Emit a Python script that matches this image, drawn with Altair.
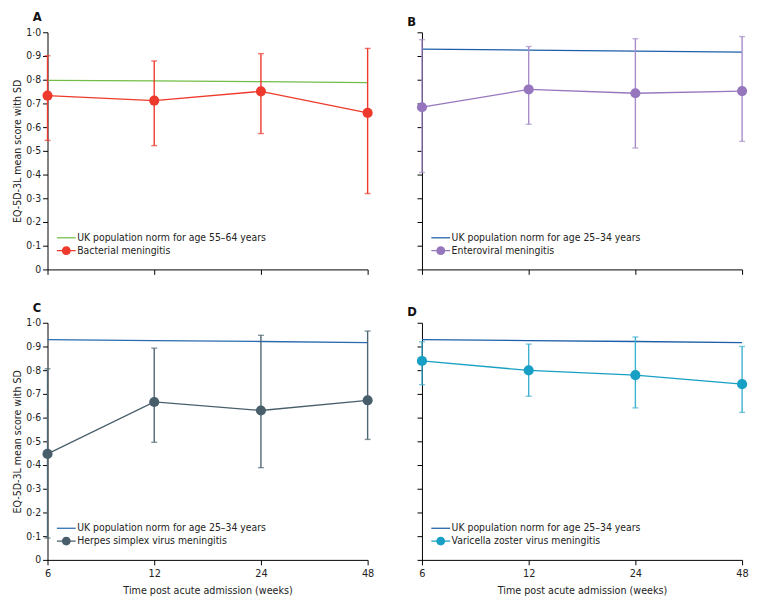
import altair as alt
import pandas as pd

weeks = ["6", "12", "24", "48"]

# Panel A - bacterial meningitis
bact_mean = [0.733, 0.712, 0.751, 0.660]
bact_lo = [0.544, 0.522, 0.573, 0.320]
bact_hi = [0.901, 0.879, 0.910, 0.932]
norm_55_64 = [0.797, 0.795, 0.792, 0.788]

# Panel B - enteroviral meningitis
entero_mean = [0.684, 0.759, 0.743, 0.752]
entero_lo = [0.409, 0.612, 0.512, 0.540]
entero_hi = [0.969, 0.940, 0.973, 0.982]
norm_25_34 = [0.929, 0.925, 0.921, 0.916]

# Panel C - HSV meningitis
hsv_mean = [0.447, 0.666, 0.630, 0.673]
hsv_lo = [0.092, 0.496, 0.389, 0.508]
hsv_hi = [0.806, 0.893, 0.947, 0.965]

# Panel D - VZV meningitis
vzv_mean = [0.839, 0.799, 0.779, 0.741]
vzv_lo = [0.739, 0.690, 0.641, 0.622]
vzv_hi = [0.920, 0.910, 0.940, 0.900]

y_ticks = [0, 0.1, 0.2, 0.3, 0.4, 0.5, 0.6, 0.7, 0.8, 0.9, 1.0]

LINE_PATH = "M-1.36,-0.09H1.36V0.09H-1.36Z"
LINE_DOT_PATH = ("M-1.36,-0.09H1.36V0.09H-1.36Z "
                 "M0.64,0A0.64,0.64 0 1 1 -0.64,0A0.64,0.64 0 1 1 0.64,0Z")

FONT = "Liberation Sans Narrow, DejaVu Sans Condensed, Roboto Condensed, Lato"
W, H = 324, 240


def panel(letter, norm_label, norm_vals, norm_color, dis_label, mean, lo, hi,
          dis_color, bar_color, x_labels, y_labels):
    norm_df = pd.DataFrame({"week": weeks, "value": norm_vals, "series": norm_label})
    dis_df = pd.DataFrame({"week": weeks, "mean": mean, "lo": lo, "hi": hi,
                           "series": dis_label})

    x_axis = alt.Axis(labels=x_labels, title="Time post acute admission (weeks)" if x_labels else None,
                      labelAngle=0, tickSize=5, domainColor="black", tickColor="black",
                      labelFontSize=11, labelColor="#222", titleFontSize=10.8,
                      titleFontWeight="normal", titleColor="#222", titlePadding=6,
                      labelPadding=3)
    y_axis = alt.Axis(values=y_ticks, labels=y_labels,
                      title="EQ-5D-3L mean score with SD" if y_labels else None,
                      labelExpr="datum.value == 0 ? '0' : replace(format(datum.value, '.1f'), '.', '·')",
                      tickSize=5, domainColor="black", tickColor="black", grid=False,
                      labelFontSize=10.5, labelColor="#222", titleFontSize=10.7,
                      titleFontWeight="normal", titleColor="#222", titlePadding=3,
                      labelPadding=2)

    x = alt.X("week:O", sort=weeks, scale=alt.Scale(type="point", padding=0), axis=x_axis)
    y_scale = alt.Scale(domain=[0, 1])

    norm = alt.Chart(norm_df).mark_line(color=norm_color, strokeWidth=1.3).encode(
        x=x, y=alt.Y("value:Q", scale=y_scale, axis=y_axis))
    bars = alt.Chart(dis_df).mark_rule(color=bar_color, strokeWidth=1.4).encode(
        x=x, y=alt.Y("lo:Q", scale=y_scale, axis=y_axis), y2="hi:Q")
    cap_lo = alt.Chart(dis_df).mark_tick(color=bar_color, thickness=1.4, size=6).encode(
        x=x, y=alt.Y("lo:Q", scale=y_scale, axis=y_axis))
    cap_hi = alt.Chart(dis_df).mark_tick(color=bar_color, thickness=1.4, size=6).encode(
        x=x, y=alt.Y("hi:Q", scale=y_scale, axis=y_axis))
    line = alt.Chart(dis_df).mark_line(color=dis_color, strokeWidth=1.3).encode(
        x=x, y=alt.Y("mean:Q", scale=y_scale, axis=y_axis))
    pts = alt.Chart(dis_df).mark_circle(color=dis_color, size=105, opacity=1).encode(
        x=x, y=alt.Y("mean:Q", scale=y_scale, axis=y_axis))

    dom = [norm_label, dis_label]
    leg = alt.Legend(title=None, orient="none", legendX=12, legendY=H - 39, symbolSize=196,
                     symbolOpacity=1, symbolStrokeWidth=0, labelFontSize=10.5,
                     labelColor="#222", rowPadding=0, labelOffset=4, padding=0,
                     labelLimit=400)
    legend_layer = alt.Chart(dis_df).mark_point(filled=True, opacity=0).encode(
        x=x, y=alt.Y("mean:Q", scale=y_scale, axis=y_axis),
        color=alt.Color("series:N", scale=alt.Scale(domain=dom, range=[norm_color, dis_color]),
                        legend=leg),
        shape=alt.Shape("series:N", scale=alt.Scale(domain=dom, range=[LINE_PATH, LINE_DOT_PATH]),
                        legend=leg),
    )

    return alt.layer(norm, bars, cap_lo, cap_hi, line, pts, legend_layer).properties(
        width=W, height=H,
        title=alt.TitleParams(letter, anchor="start", frame="group", dx=-15, fontSize=13,
                              fontWeight="bold", offset=3, color="#111"),
    )


a = panel("A", "UK population norm for age 55–64 years", norm_55_64, "#72bd45",
          "Bacterial meningitis", bact_mean, bact_lo, bact_hi, "#ee3a2c", "#ee3a2c",
          False, True)
b = panel("B", "UK population norm for age 25–34 years", norm_25_34, "#1d5ea8",
          "Enteroviral meningitis", entero_mean, entero_lo, entero_hi, "#9677bd", "#a78cc9",
          False, False)
c = panel("C", "UK population norm for age 25–34 years", norm_25_34, "#2a6bb0",
          "Herpes simplex virus meningitis", hsv_mean, hsv_lo, hsv_hi, "#485f6b", "#4f6773",
          True, True)
d = panel("D", "UK population norm for age 25–34 years", norm_25_34, "#1d5ea8",
          "Varicella zoster virus meningitis", vzv_mean, vzv_lo, vzv_hi, "#17a0c4", "#3fb1d0",
          True, False)

chart = alt.concat(a, b, c, d, columns=2, spacing={"row": 27, "column": 33}).resolve_scale(
    color="independent", shape="independent"
).properties(
    padding={"left": 3, "top": 0, "right": 0, "bottom": 0}
).configure(font=FONT).configure_view(stroke=None)

chart.save("out.html", embed_options={"renderer": "svg", "actions": False})
